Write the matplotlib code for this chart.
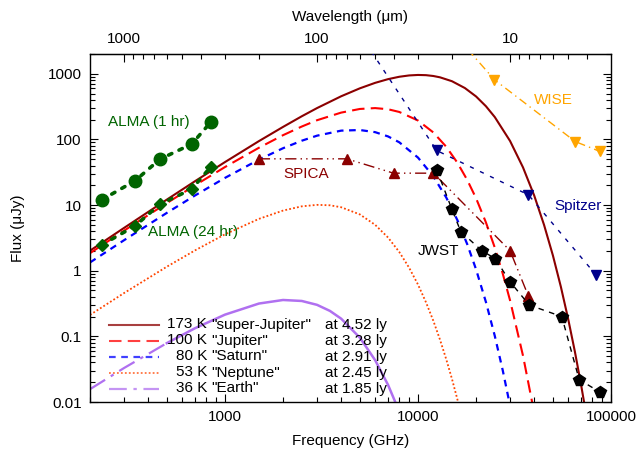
import matplotlib
matplotlib.use("Agg")
import matplotlib.pyplot as plt
from matplotlib.ticker import LogLocator, FuncFormatter, NullFormatter, FixedLocator

plt.rcParams['font.family'] = ['Liberation Sans', 'DejaVu Sans']

# ---------------- data (frequency in GHz, flux in microJy) ----------------
alma_freq = [230, 342, 461, 673, 847]
alma_1hr = [12.0, 23.4, 50.0, 85.0, 185.0]
alma_24hr = [2.47, 4.8, 10.3, 17.5, 38.6]

spica_freq = [1500, 4280, 7470, 12030, 29990, 37340]
spica_flux = [50.6, 50.6, 30.6, 30.6, 2.02, 0.41]

spitzer_freq = [4283, 12500, 37340, 83700]
spitzer_flux = [8000, 67.8, 14.3, 0.86]

wise_freq = [13627, 24900, 65200, 87700]
wise_flux = [6100, 811, 92.9, 65.5]

jwst_freq = [12520, 14960, 16670, 21400, 25130, 29990, 37700, 55600, 68400, 87700]
jwst_flux = [34.4, 8.75, 3.94, 2.02, 1.53, 0.68, 0.30, 0.20, 0.022, 0.0141]

bb173_freq = [200, 300, 500, 700, 1000, 1500, 2000, 2500, 3000, 4000, 5000, 6000, 7000,
              8000, 9000, 10000, 11000, 12000, 13000, 15000, 17500, 20000, 22500, 25000,
              30000, 35000, 40000, 45000, 50000, 55000, 60000, 65000, 70000, 75000]
bb173_flux = [2.02, 4.48, 12.1, 23.1, 45.1, 94.2, 155, 225, 300, 454, 600, 727, 828,
              900, 943, 959, 952, 925, 883, 770, 606, 451, 320, 219,
              94.6, 37.5, 14.0, 4.98, 1.71, 0.568, 0.184, 0.0585, 0.0182, 0.0056]

bb100_freq = [200, 300, 500, 700, 1000, 1500, 2000, 2500, 3000, 4000, 5000, 6000, 7000,
              8000, 10000, 12000, 14000, 16000, 18000, 20000, 22500, 25000, 27500, 30000,
              35000, 40000]
bb100_flux = [1.85, 4.07, 10.7, 20.0, 37.9, 74.6, 116, 157, 196, 256, 291, 300, 288,
              262, 194, 128, 77.5, 44.2, 24.1, 12.7, 5.43, 2.25, 0.90, 0.353,
              0.0508, 0.0069]

bb80_freq = [200, 300, 500, 700, 1000, 1500, 2000, 2500, 3000, 4000, 5000, 6000, 7000,
             8000, 10000, 12000, 14000, 16000, 18000, 20000, 22500, 25000, 27500, 30000]
bb80_flux = [1.335, 2.91, 7.60, 14.0, 25.9, 49.2, 73.4, 95.5, 114, 136, 139, 129, 111,
             90.4, 52.9, 27.5, 13.1, 5.90, 2.53, 1.046, 0.332, 0.1017, 0.0302, 0.00875]

bb53_freq = [200, 300, 500, 700, 1000, 1500, 2000, 2500, 3000, 3500, 4000, 5000, 6000,
             7000, 8000, 9000, 10000, 11000, 12000, 13000, 14000, 15000, 16000, 17000]
bb53_flux = [0.212, 0.456, 1.15, 2.04, 3.58, 6.16, 8.24, 9.56, 10.07, 9.92, 9.26, 7.20, 5.00,
             3.20, 1.93, 1.11, 0.616, 0.331, 0.174, 0.0894, 0.0451, 0.0225, 0.0110, 0.00535]

bb36_freq = [200, 300, 500, 700, 1000, 1500, 2000, 2500, 3000, 3500, 4000, 5000, 6000,
             7000, 8000]
bb36_flux = [0.01567, 0.0329, 0.0789, 0.133, 0.214, 0.316, 0.358, 0.346, 0.302, 0.244,
             0.186, 0.0955, 0.0434, 0.0182, 0.00716]

wavelength_ticks = [1000, 100, 10]
wavelength_minor = [900, 800, 700, 600, 500, 400, 300, 200,
                    90, 80, 70, 60, 50, 40, 30, 20, 9, 8, 7, 6, 5, 4]

legend_temps = ["173 K", "100 K", "80 K", "53 K", "36 K"]
legend_names = ['"super-Jupiter"', '"Jupiter"', '"Saturn"', '"Neptune"', '"Earth"']
legend_dist = ["at 4.52 ly", "at 3.28 ly", "at 2.91 ly", "at 2.45 ly", "at 1.85 ly"]

# ---------------- figure ----------------
W, H = 641, 451
fig = plt.figure(figsize=(W / 100, H / 100), dpi=100)
L, R, T, B = 90, 611, 54, 402
ax = fig.add_axes([L / W, 1 - B / H, (R - L) / W, (B - T) / H])


def axpos(px, py):
    return (px - L) / (R - L), (B - py) / (B - T)


FS = 11
c173, c100, c80, c53, c36 = '#8b0000', '#ff0000', '#0000ff', '#ff4500', '#b070f0'
styles = [
    (bb173_freq, bb173_flux, c173, '-', 1.5),
    (bb100_freq, bb100_flux, c100, (0, (6, 3)), 1.5),
    (bb80_freq, bb80_flux, c80, (0, (3, 2.5)), 1.6),
    (bb53_freq, bb53_flux, c53, (0, (1, 1.2)), 1.3),
]
for f, v, c, ls, lw in styles:
    ax.plot(f, v, color=c, ls=ls, lw=lw, zorder=2)
# 36 K curve: dash-dot on the left part, solid afterwards (as in the original render)
ax.plot(bb36_freq[:3], bb36_flux[:3], color=c36, ls=(0, (8, 3, 1.5, 3)), lw=1.6, zorder=2)
ax.plot(bb36_freq[2:], bb36_flux[2:], color=c36, ls='-', lw=1.8, zorder=2)

green = '#006400'
ax.plot(alma_freq, alma_1hr, color=green, ls=(0, (1, 2.2)), lw=2.6, marker='o', ms=9,
        dash_capstyle='round', zorder=4)
ax.plot(alma_freq, alma_24hr, color=green, ls=(0, (1, 2.2)), lw=2.6, marker='D', ms=6.5,
        dash_capstyle='round', zorder=4)
ax.plot(spica_freq, spica_flux, color='#8b0000', ls=(0, (8, 3, 1, 3, 1, 3)), lw=1.0,
        marker='^', ms=7.5, zorder=4)
ax.plot(spitzer_freq, spitzer_flux, color='#00008b', ls=(0, (3, 5)), lw=1.0,
        marker='v', ms=7.5, zorder=4)
ax.plot(wise_freq, wise_flux, color='#ffa500', ls=(0, (6, 3, 1, 3)), lw=1.0,
        marker='v', ms=7.5, zorder=4)
ax.plot(jwst_freq, jwst_flux, color='black', ls=(0, (4, 4)), lw=1.0,
        marker='p', ms=8.5, zorder=5)

ax.set_xscale('log')
ax.set_yscale('log')
ax.set_xlim(200, 100000)
ax.set_ylim(0.01, 2000)

fmt = FuncFormatter(lambda v, p: '%g' % v)
ax.xaxis.set_major_locator(FixedLocator([1000, 10000, 100000]))
ax.yaxis.set_major_locator(FixedLocator([0.01, 0.1, 1, 10, 100, 1000]))
for axis in (ax.xaxis, ax.yaxis):
    axis.set_minor_locator(LogLocator(base=10, subs=range(2, 10), numticks=20))
    axis.set_major_formatter(fmt)
    axis.set_minor_formatter(NullFormatter())
ax.tick_params(which='both', direction='in', labelsize=FS, top=False, right=True)
ax.tick_params(which='major', length=6, width=0.8, pad=6)
ax.tick_params(which='minor', length=3.5, width=0.8)
for s in ax.spines.values():
    s.set_linewidth(1.0)

conv = lambda x: 299792.458 / x
sec = ax.secondary_xaxis('top', functions=(conv, conv))
sec.xaxis.set_major_locator(FixedLocator(wavelength_ticks))
sec.xaxis.set_minor_locator(FixedLocator(wavelength_minor))
sec.xaxis.set_major_formatter(fmt)
sec.xaxis.set_minor_formatter(NullFormatter())
sec.tick_params(which='both', direction='in', labelsize=FS)
sec.tick_params(which='major', length=6, width=0.8, pad=6)
sec.tick_params(which='minor', length=3.5, width=0.8)
sec.set_xlabel('Wavelength (μm)', fontsize=FS, labelpad=8)

ax.set_xlabel('Frequency (GHz)', fontsize=FS, labelpad=7)
ax.set_ylabel('Flux (μJy)', fontsize=FS, labelpad=16)

# annotations
def label(px, py, s, color, ha='left'):
    x, y = axpos(px, py)
    ax.text(x, y, s, transform=ax.transAxes, color=color, fontsize=FS, ha=ha, va='center')

label(108, 122, 'ALMA (1 hr)', green)
label(148, 232, 'ALMA (24 hr)', green)
label(283, 174, 'SPICA', '#8b0000')
label(418, 251, 'JWST', 'black')
label(554, 206, 'Spitzer', '#00008b')
label(534, 100, 'WISE', '#ffa500')

# legend drawn manually to keep the column alignment of the original
leg_styles = [(c173, '-', 1.5), (c100, (0, (6, 3)), 1.5), (c80, (0, (3, 2.5)), 1.6),
              (c53, (0, (1, 1.2)), 1.3), (c36, (0, (8, 3, 1.5, 3)), 1.6)]
for i, (c, ls, lw) in enumerate(leg_styles):
    py = 324.5 + 16 * i
    x0, y0 = axpos(109, py)
    x1, _ = axpos(159, py)
    ax.plot([x0, x1], [y0, y0], transform=ax.transAxes, color=c, ls=ls, lw=lw,
            alpha=0.75, clip_on=False, zorder=3)
    xa, _ = axpos(207, py)
    xb, _ = axpos(211, py)
    xc, _ = axpos(325, py)
    ax.text(xa, y0, legend_temps[i], transform=ax.transAxes, fontsize=FS, ha='right', va='center')
    ax.text(xb, y0, legend_names[i], transform=ax.transAxes, fontsize=FS, ha='left', va='center')
    ax.text(xc, y0, legend_dist[i], transform=ax.transAxes, fontsize=FS, ha='left', va='center')

fig.savefig('out.png', dpi=100)
